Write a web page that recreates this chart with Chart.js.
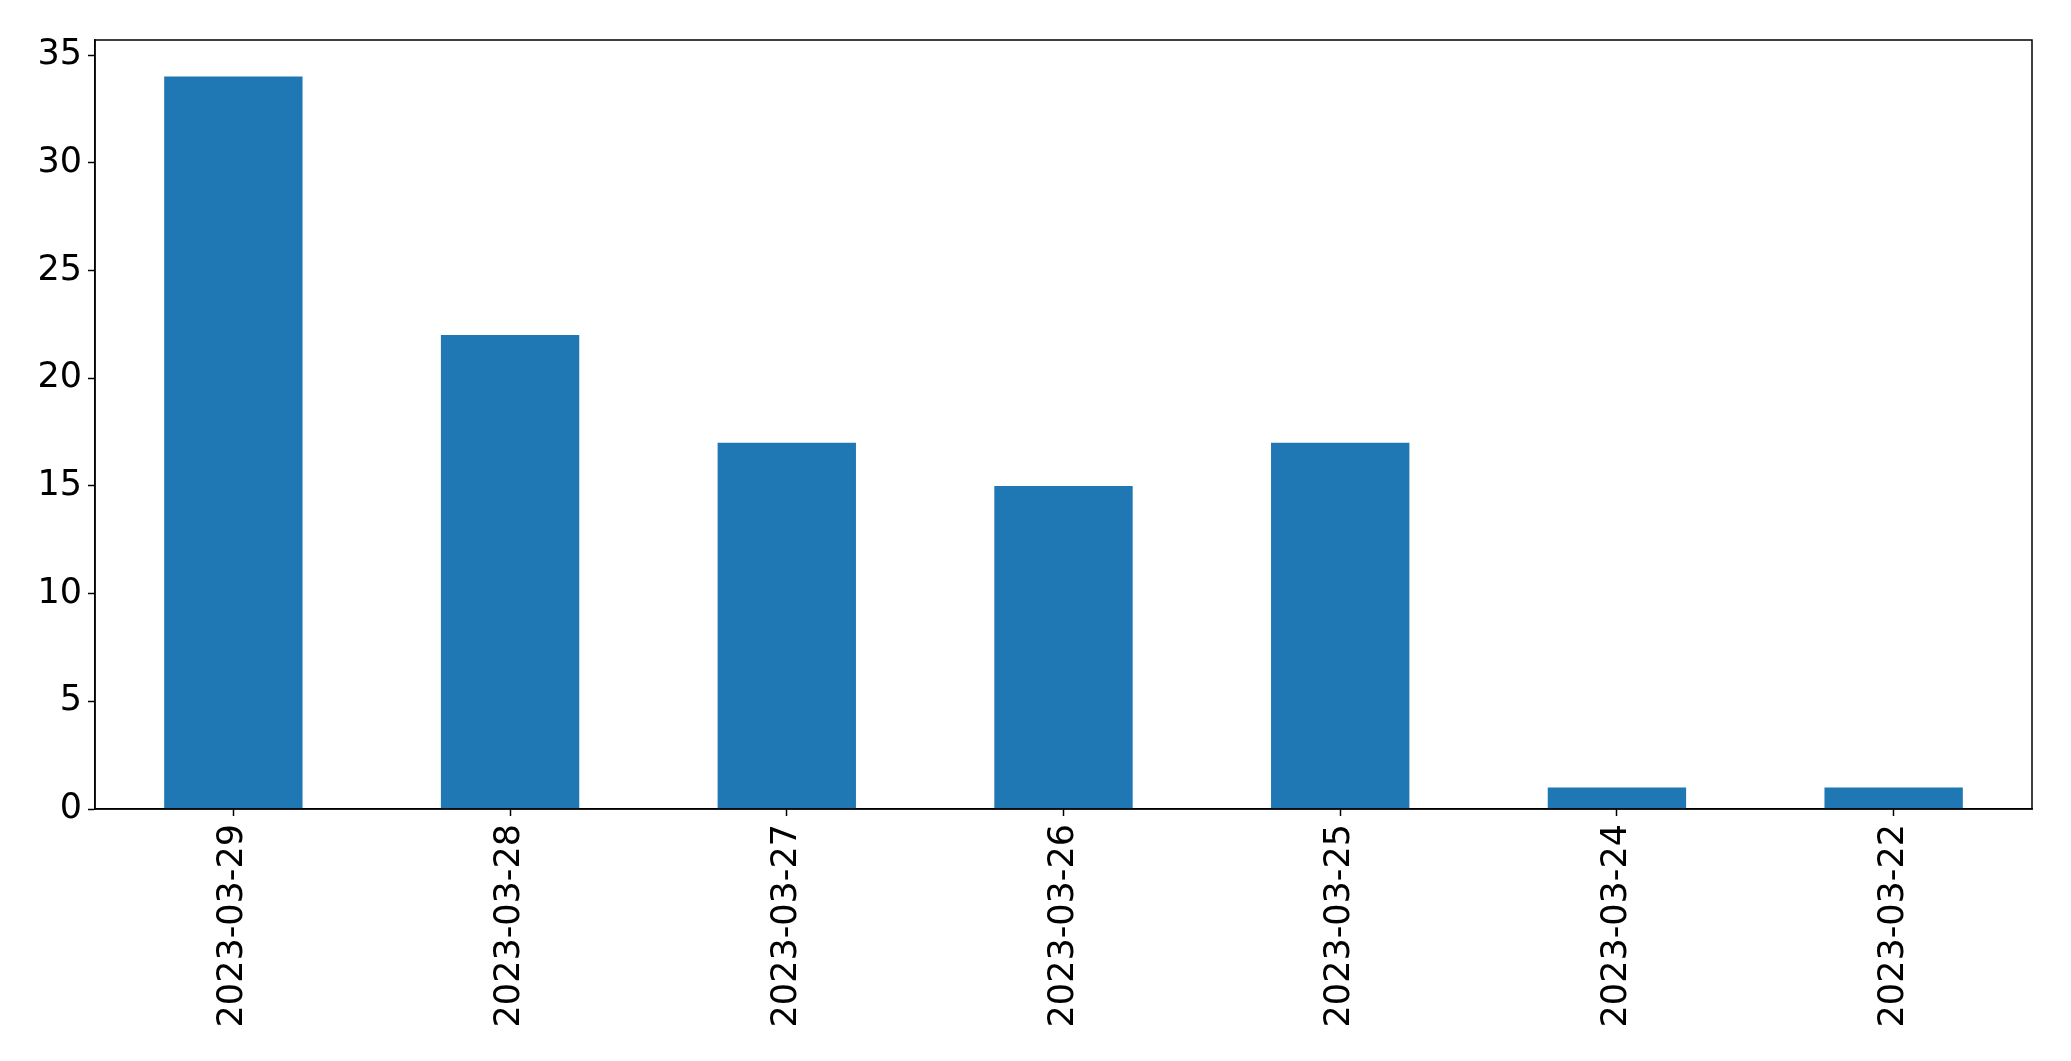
<!DOCTYPE html>
<html>
<head>
<meta charset="utf-8">
<script src="https://cdn.jsdelivr.net/npm/chart.js@4/dist/chart.umd.min.js"></script>
<style>
  body { margin: 0; background: #fff; }
  canvas { display: block; }
</style>
</head>
<body>
<canvas id="chart" width="2071" height="1061"></canvas>
<script>
dates = ["2023-03-29", "2023-03-28", "2023-03-27", "2023-03-26", "2023-03-25", "2023-03-24", "2023-03-22"];
counts = [34, 22, 17, 15, 17, 1, 1];

// matplotlib style frame: box round the plot area
frameBox = {
    id: 'frameBox',
    afterDraw(chart) {
        const a = chart.chartArea;
        const ctx = chart.ctx;
        ctx.save();
        ctx.strokeStyle = '#000';
        ctx.lineWidth = 1.5;
        ctx.strokeRect(a.left, a.top, a.right - a.left, a.bottom - a.top);
        ctx.restore();
    }
};

tickFont = { family: "'DejaVu Sans'", size: 35 };

new Chart(document.getElementById("chart"), {
    type: 'bar',
    data: {
        labels: dates,
        datasets: [{
            data: counts,
            backgroundColor: "#1f77b4",
            barPercentage: 0.5,
            categoryPercentage: 1.0
        }]
    },
    options: {
        responsive: false,
        animation: false,
        layout: { padding: { top: 40, right: 39, left: 0, bottom: 0 } },
        plugins: {
            legend: { display: false },
            tooltip: { enabled: false }
        },
        scales: {
            x: {
                offset: true,
                grid: { display: true, offset: false, drawOnChartArea: false, tickLength: 7, tickColor: '#000', tickWidth: 1.5 },
                border: { display: true, color: '#000', width: 1.5 },
                ticks: { color: '#000', font: tickFont, minRotation: 90, maxRotation: 90, padding: 8, autoSkip: false },
                afterFit: scale => { scale.height = 252; }
            },
            y: {
                min: 0,
                max: 35.7,
                grid: { display: true, drawOnChartArea: false, tickLength: 7, tickColor: '#000', tickWidth: 1.5 },
                border: { display: true, color: '#000', width: 1.5 },
                ticks: { color: '#000', font: tickFont, stepSize: 5, includeBounds: false, padding: 6 },
                afterFit: scale => { scale.width = 95; }
            }
        }
    },
    plugins: [frameBox]
});
</script>
</body>
</html>
